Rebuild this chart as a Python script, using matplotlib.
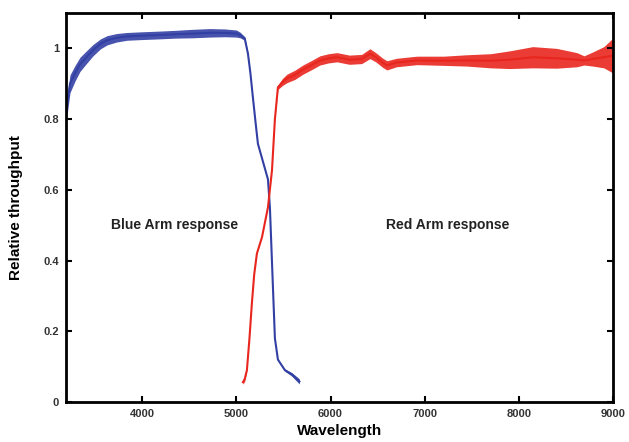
import matplotlib
matplotlib.use("Agg")
import matplotlib.pyplot as plt

plt.rcParams['font.family'] = ['Liberation Sans', 'DejaVu Sans']

# Blue arm: wavelength (A), throughput, half-width of noise band
blue_wl = [3200, 3236, 3290, 3342, 3410, 3480, 3560, 3630, 3730, 3840, 4000,
           4190, 4350, 4540, 4720, 4880, 5000, 5040, 5090, 5124, 5150, 5177,
           5205, 5230, 5283, 5336, 5357, 5389, 5410, 5442, 5516, 5590, 5654, 5670]
blue_tp = [0.83, 0.90, 0.93, 0.955, 0.975, 0.995, 1.013, 1.023, 1.030, 1.034, 1.036,
           1.038, 1.040, 1.042, 1.044, 1.044, 1.042, 1.038, 1.028, 0.985, 0.93, 0.86,
           0.79, 0.73, 0.68, 0.63, 0.55, 0.325, 0.18, 0.12, 0.09, 0.078, 0.062, 0.058]
blue_spread = [0.028, 0.025, 0.022, 0.02, 0.018, 0.016, 0.014, 0.013, 0.012, 0.011, 0.011,
               0.011, 0.011, 0.012, 0.012, 0.011, 0.010, 0.008, 0.005, 0.002, 0.0, 0.0,
               0.0, 0.0, 0.0, 0.0, 0.0, 0.0, 0.0, 0.0, 0.003, 0.005, 0.007, 0.007]

# Red arm
red_wl = [5071, 5090, 5113, 5140, 5166, 5190, 5219, 5273, 5336, 5379, 5410, 5442,
          5490, 5537, 5620, 5707, 5800, 5888, 5980, 6068, 6200, 6330, 6418, 6480,
          6550, 6598, 6700, 6916, 7200, 7446, 7700, 7900, 8146, 8400, 8613, 8690,
          8783, 8900, 9000]
red_tp = [0.056, 0.065, 0.09, 0.18, 0.28, 0.36, 0.42, 0.466, 0.55, 0.655, 0.80, 0.89,
          0.905, 0.915, 0.925, 0.94, 0.953, 0.966, 0.972, 0.975, 0.968, 0.97, 0.985, 0.975,
          0.96, 0.952, 0.96, 0.966, 0.965, 0.966, 0.965, 0.968, 0.975, 0.972, 0.968, 0.966,
          0.97, 0.975, 0.98]
red_spread = [0.006, 0.006, 0.0, 0.0, 0.0, 0.0, 0.0, 0.0, 0.0, 0.0, 0.0, 0.006,
              0.010, 0.012, 0.013, 0.013, 0.013, 0.013, 0.013, 0.013, 0.013, 0.013, 0.014, 0.013,
              0.013, 0.013, 0.012, 0.012, 0.013, 0.016, 0.020, 0.025, 0.030, 0.028, 0.020, 0.013,
              0.020, 0.030, 0.050]

xticks = [4000, 5000, 6000, 7000, 8000, 9000]
xticklabels = ['4000', '5000', '6000', '7000', '8000', '9000']
yticks = [0, 0.2, 0.4, 0.6, 0.8, 1.0]
yticklabels = ['0', '0.2', '0.4', '0.6', '0.8', '1']

blue_c = '#3340a3'
red_c = '#e8261e'

fig = plt.figure(figsize=(6.29, 4.42), dpi=100)
ax = fig.add_axes([0.105, 0.0905, 0.870, 0.880])

ax.fill_between(blue_wl, [t - s for t, s in zip(blue_tp, blue_spread)],
                [t + s for t, s in zip(blue_tp, blue_spread)], color=blue_c, lw=0, alpha=0.9)
ax.plot(blue_wl, blue_tp, color=blue_c, lw=1.5)
ax.fill_between(red_wl, [t - s for t, s in zip(red_tp, red_spread)],
                [t + s for t, s in zip(red_tp, red_spread)], color=red_c, lw=0, alpha=0.9)
ax.plot(red_wl, red_tp, color=red_c, lw=1.5)

ax.set_xlim(3194, 9000)
ax.set_ylim(0, 1.1)
ax.set_xticks(xticks)
ax.set_xticklabels(xticklabels)
ax.set_yticks(yticks)
ax.set_yticklabels(yticklabels)
ax.tick_params(direction='in', length=4, width=1.5, top=True, right=True,
               labelsize=8, labelcolor='#333333', pad=5)
for lab in ax.get_xticklabels() + ax.get_yticklabels():
    lab.set_fontweight('bold')
for sp in ax.spines.values():
    sp.set_linewidth(2)

ax.set_xlabel('Wavelength', fontsize=11, fontweight='bold', labelpad=4)
ax.set_ylabel('Relative throughput', fontsize=11, fontweight='bold', labelpad=15)

ax.text(4350, 0.5, 'Blue Arm response', fontsize=10, fontweight='bold',
        ha='center', va='center', color='#222222')
ax.text(7245, 0.5, 'Red Arm response', fontsize=10, fontweight='bold',
        ha='center', va='center', color='#222222')

fig.savefig('out.png', dpi=100)
